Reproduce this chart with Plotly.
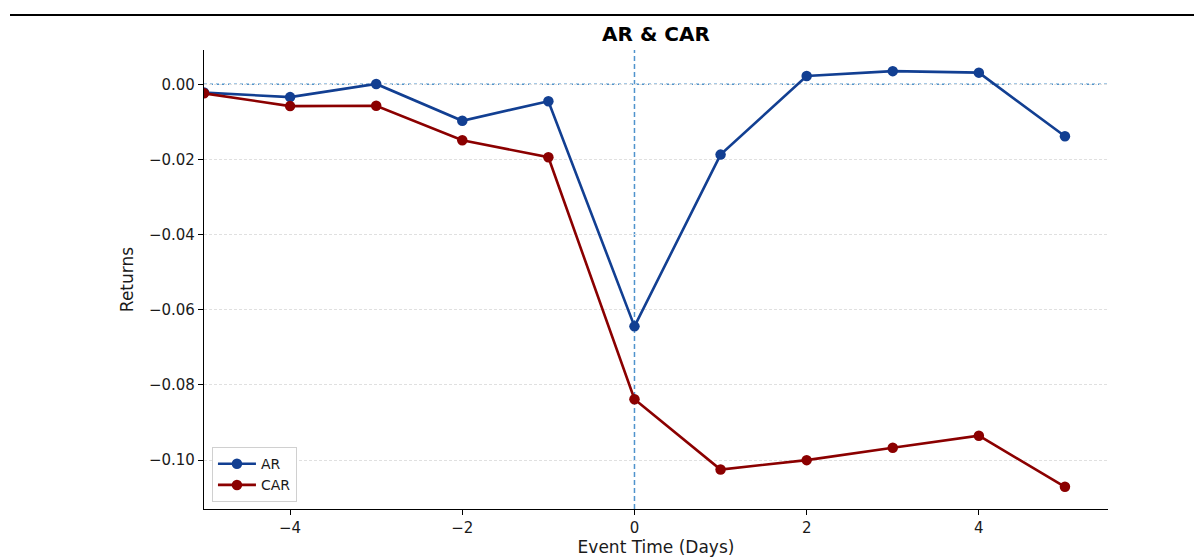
import plotly.graph_objects as go

# ---- data ----
event_days = [-5, -4, -3, -2, -1, 0, 1, 2, 3, 4, 5]
ar_values = [-0.0022, -0.0034, 0.0001, -0.0097, -0.0045, -0.0644, -0.0187, 0.0022, 0.0035, 0.0031, -0.0138]
car_values = [-0.0024, -0.0058, -0.0057, -0.0149, -0.0194, -0.0838, -0.1025, -0.1000, -0.0967, -0.0935, -0.1071]

x_tick_vals = [-4, -2, 0, 2, 4]
x_tick_text = ["\u22124", "\u22122", "0", "2", "4"]
y_tick_vals = [-0.10, -0.08, -0.06, -0.04, -0.02, 0.00]
y_tick_text = ["\u22120.10", "\u22120.08", "\u22120.06", "\u22120.04", "\u22120.02", "0.00"]

event_day = 0
baseline = 0.0

AR_COLOR = "#123f92"
CAR_COLOR = "#8b0000"
REF_COLOR = "#4f93cc"
FONT = "DejaVu Sans"
TEXT_COLOR = "#1a1a1a"

fig = go.Figure()
fig.add_trace(go.Scatter(
    x=event_days, y=ar_values, name="AR", mode="lines+markers",
    line=dict(color=AR_COLOR, width=2.6),
    marker=dict(color=AR_COLOR, size=10.5),
))
fig.add_trace(go.Scatter(
    x=event_days, y=car_values, name="CAR", mode="lines+markers",
    line=dict(color=CAR_COLOR, width=2.6),
    marker=dict(color=CAR_COLOR, size=10.5),
))

# reference lines
fig.add_shape(type="line", xref="paper", yref="y", x0=0, x1=1, y0=baseline, y1=baseline,
              line=dict(color=REF_COLOR, width=1.6, dash="dot"), layer="between")
fig.add_shape(type="line", xref="x", yref="paper", x0=event_day, x1=event_day, y0=0, y1=1,
              line=dict(color=REF_COLOR, width=1.5, dash="5px,3px"), layer="between")
# notebook cell border line at top
fig.add_shape(type="line", xref="paper", yref="paper", x0=-0.2146, x1=1.1, y0=1.0763, y1=1.0763,
              line=dict(color="black", width=2))

fig.update_layout(
    width=1194, height=557, autosize=False,
    margin=dict(l=204, r=86, t=50, b=48, autoexpand=False),
    paper_bgcolor="white", plot_bgcolor="white",
    font=dict(family=FONT, color=TEXT_COLOR, size=14),
    title=dict(text="<b>AR & CAR</b>", x=0.5, xref="paper", xanchor="center",
               y=1 - 34 / 557, yref="container", yanchor="middle",
               font=dict(family=FONT, size=20, color="black")),
    showlegend=True,
    legend=dict(x=0.0088, y=0.015, xanchor="left", yanchor="bottom",
                bgcolor="white", bordercolor="#d0d0d0", borderwidth=1,
                font=dict(family=FONT, size=14, color=TEXT_COLOR),
                itemwidth=38, tracegroupgap=2),
)
fig.update_xaxes(
    range=[-5, 5.5], tickvals=x_tick_vals, ticktext=x_tick_text,
    showgrid=False, zeroline=False, automargin=False,
    showline=True, linecolor="black", linewidth=1.2, mirror=False,
    ticks="outside", ticklen=5, tickwidth=1.2, tickcolor="black",
    tickfont=dict(family=FONT, size=15, color=TEXT_COLOR),
    title=dict(text="Event Time (Days)", font=dict(family=FONT, size=17, color=TEXT_COLOR), standoff=8),
)
fig.update_yaxes(
    range=[-0.1130, 0.00913], tickvals=y_tick_vals, ticktext=y_tick_text,
    showgrid=True, gridcolor="#e0e0e0", griddash="3px,2px", gridwidth=0.8,
    zeroline=False, automargin=False,
    showline=True, linecolor="black", linewidth=1.2, mirror=False,
    ticks="outside", ticklen=5, tickwidth=1.2, tickcolor="black",
    tickfont=dict(family=FONT, size=15, color=TEXT_COLOR),
    title=dict(text="Returns", font=dict(family=FONT, size=17, color=TEXT_COLOR), standoff=10),
)

fig.write_html("out.html")
